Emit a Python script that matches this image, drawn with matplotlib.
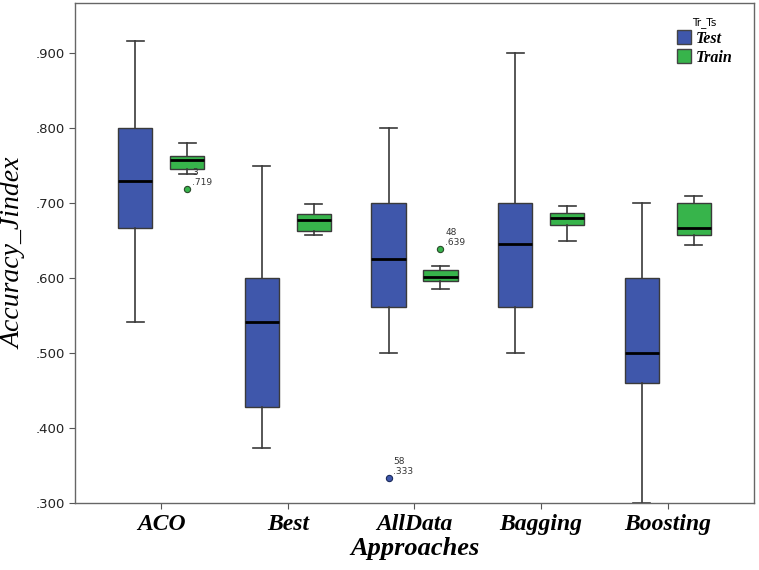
import matplotlib
matplotlib.use("Agg")
import matplotlib.pyplot as plt
from matplotlib.patches import Patch
from matplotlib.ticker import FuncFormatter

categories = ["ACO", "Best", "AllData", "Bagging", "Boosting"]

# Test series: whisker low, Q1, median, Q3, whisker high
test_wlo = [0.541, 0.373, 0.500, 0.500, 0.300]
test_q1 = [0.667, 0.428, 0.562, 0.562, 0.460]
test_med = [0.729, 0.541, 0.625, 0.645, 0.500]
test_q3 = [0.800, 0.600, 0.700, 0.700, 0.600]
test_whi = [0.916, 0.750, 0.800, 0.900, 0.700]
test_fliers = [[], [], [0.333], [], []]
test_flier_ids = [[], [], ["58"], [], []]

# Train series
train_wlo = [0.739, 0.657, 0.586, 0.650, 0.644]
train_q1 = [0.746, 0.663, 0.596, 0.671, 0.657]
train_med = [0.757, 0.677, 0.602, 0.680, 0.667]
train_q3 = [0.763, 0.685, 0.611, 0.687, 0.700]
train_whi = [0.780, 0.699, 0.616, 0.696, 0.709]
train_fliers = [[0.719], [], [0.639], [], []]
train_flier_ids = [["3"], [], ["48"], [], []]

series_names = ["Test", "Train"]
colors = {"Test": "#3F57AB", "Train": "#37B44B"}

fig = plt.figure(figsize=(7.59, 5.70), dpi=100)
ax = fig.add_axes([0.0988, 0.1175, 0.8946, 0.8772])

def make_stats(wlo, q1, med, q3, whi, fl):
    return [dict(whislo=a, q1=b, med=c, q3=d, whishi=e, fliers=f)
            for a, b, c, d, e, f in zip(wlo, q1, med, q3, whi, fl)]

offset = 0.205
width = 0.27
series = [
    ("Test", make_stats(test_wlo, test_q1, test_med, test_q3, test_whi, test_fliers), -offset, test_fliers, test_flier_ids),
    ("Train", make_stats(train_wlo, train_q1, train_med, train_q3, train_whi, train_fliers), offset, train_fliers, train_flier_ids),
]

for name, stats, off, fl, ids in series:
    pos = [i + off for i in range(len(categories))]
    col = colors[name]
    ax.bxp(stats, positions=pos, widths=width, patch_artist=True,
           boxprops=dict(facecolor=col, edgecolor="#3a3a3a", linewidth=1.0),
           medianprops=dict(color="black", linewidth=2.0),
           whiskerprops=dict(color="#3a3a3a", linewidth=1.2),
           capprops=dict(color="#3a3a3a", linewidth=1.2),
           capwidths=width / 2,
           flierprops=dict(marker="o", markerfacecolor=col,
                           markeredgecolor="#2a4a2a" if name == "Train" else "#1a2a5a",
                           markersize=4.5, markeredgewidth=0.8),
           manage_ticks=False)
    for i, (vals, labs) in enumerate(zip(fl, ids)):
        for v, lab in zip(vals, labs):
            ax.annotate(lab, xy=(i + off, v), xytext=(3.5, 10), textcoords="offset points",
                        fontsize=6.5, color="#333333", family="DejaVu Sans")
            ax.annotate(f"{v:.3f}".lstrip("0"), xy=(i + off, v), xytext=(3.5, 3), textcoords="offset points",
                        fontsize=6.5, color="#333333", family="DejaVu Sans")

ax.set_xlim(-0.68, len(categories) - 1 + 0.68)
ax.set_ylim(0.300, 0.967)
ax.set_yticks([0.3, 0.4, 0.5, 0.6, 0.7, 0.8, 0.9])
ax.yaxis.set_major_formatter(FuncFormatter(lambda v, p: f"{v:.3f}".lstrip("0")))
ax.set_xticks(range(len(categories)))
ax.set_xticklabels(categories, family="Liberation Serif", fontstyle="italic",
                   fontweight="bold", fontsize=17)
for lab in ax.get_yticklabels():
    lab.set_family("DejaVu Sans")
    lab.set_fontsize(9.5)
    lab.set_color("#222222")

ax.tick_params(axis="both", color="#555555", length=4)
ax.tick_params(axis="x", pad=4)
for sp in ax.spines.values():
    sp.set_color("#666666")
    sp.set_linewidth(1.0)

ax.set_xlabel("Approaches", family="Liberation Serif", fontstyle="italic",
              fontweight="bold", fontsize=19, labelpad=1)
ax.set_ylabel("Accuracy_Jindex", family="Liberation Serif", fontstyle="italic",
              fontsize=20, labelpad=6)

handles = [Patch(facecolor=colors[n], edgecolor="#444444", label=n) for n in series_names]
leg = ax.legend(handles=handles, title="Tr_Ts", loc="upper right",
                bbox_to_anchor=(0.985, 0.995), frameon=False,
                prop=dict(family="Liberation Serif", style="italic", weight="bold", size=11.5),
                handlelength=0.9, handleheight=1.0, handletextpad=0.3,
                borderpad=0.2, labelspacing=0.15)
leg.get_title().set_fontsize(7.5)
leg.get_title().set_family("DejaVu Sans")

fig.savefig("out.png", dpi=100)
